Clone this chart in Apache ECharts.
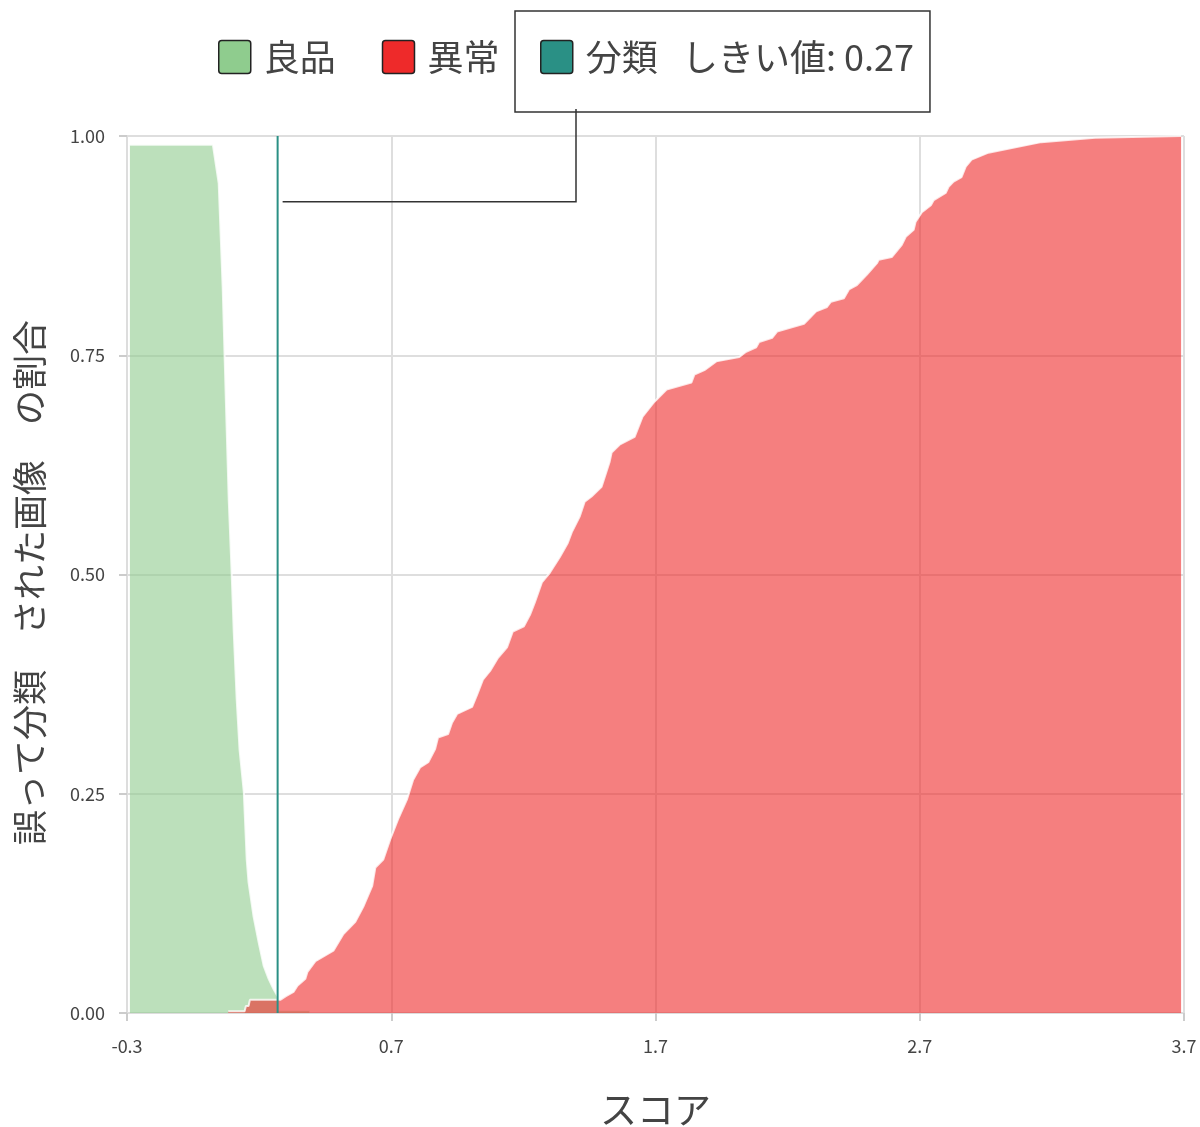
<!DOCTYPE html>
<html>
<head>
<meta charset="utf-8">
<script src="https://cdn.jsdelivr.net/npm/echarts@6/dist/echarts.min.js"></script>
<style>
html,body{margin:0;padding:0;background:#fff;}
#chart{width:1200px;height:1127px;}
</style>
</head>
<body>
<div id="chart"></div>
<script>
// ---- data ----
const xTicks = [-0.3, 0.7, 1.7, 2.7, 3.7];
const yTicks = [0, 0.25, 0.5, 0.75, 1.0];
const seriesNames = ['良品', '異常', '分類   しきい値: 0.27'];
const threshold = 0.27;

const goodX = [-0.289, 0.025, 0.047, 0.062, 0.074, 0.085, 0.096, 0.104, 0.115, 0.126, 0.142, 0.153, 0.160, 0.179, 0.198, 0.217, 0.236, 0.255, 0.270, 0.275, 0.390];
const goodY = [0.99, 0.99, 0.946, 0.828, 0.699, 0.585, 0.502, 0.434, 0.358, 0.300, 0.252, 0.175, 0.149, 0.110, 0.081, 0.054, 0.039, 0.027, 0.019, 0.003, 0.003];

const badX = [0.083, 0.145, 0.150, 0.160, 0.165, 0.280, 0.300, 0.330, 0.345, 0.375, 0.383, 0.413, 0.481, 0.519, 0.564, 0.594, 0.628, 0.640, 0.670, 0.696, 0.726, 0.760, 0.783, 0.809, 0.840, 0.866, 0.877, 0.915, 0.930, 0.949, 1.006, 1.025, 1.047, 1.074, 1.104, 1.138, 1.160, 1.202, 1.225, 1.243, 1.270, 1.300, 1.338, 1.368, 1.383, 1.413, 1.432, 1.458, 1.496, 1.526, 1.534, 1.564, 1.621, 1.651, 1.696, 1.742, 1.836, 1.847, 1.885, 1.930, 2.017, 2.043, 2.081, 2.092, 2.142, 2.160, 2.262, 2.308, 2.349, 2.364, 2.413, 2.432, 2.462, 2.500, 2.538, 2.545, 2.594, 2.632, 2.647, 2.677, 2.684, 2.708, 2.742, 2.753, 2.798, 2.809, 2.828, 2.858, 2.874, 2.896, 2.960, 3.160, 3.364, 3.689];
const badY = [0.002, 0.002, 0.008, 0.008, 0.015, 0.015, 0.019, 0.024, 0.031, 0.039, 0.047, 0.059, 0.071, 0.090, 0.104, 0.121, 0.145, 0.166, 0.175, 0.198, 0.221, 0.244, 0.266, 0.280, 0.286, 0.301, 0.314, 0.318, 0.331, 0.341, 0.349, 0.363, 0.380, 0.390, 0.405, 0.417, 0.435, 0.441, 0.454, 0.468, 0.491, 0.502, 0.520, 0.536, 0.548, 0.566, 0.583, 0.589, 0.600, 0.628, 0.639, 0.648, 0.657, 0.680, 0.697, 0.711, 0.719, 0.728, 0.733, 0.743, 0.748, 0.754, 0.759, 0.765, 0.770, 0.777, 0.786, 0.800, 0.805, 0.811, 0.815, 0.825, 0.830, 0.842, 0.855, 0.859, 0.862, 0.876, 0.885, 0.893, 0.902, 0.913, 0.921, 0.927, 0.935, 0.942, 0.948, 0.953, 0.965, 0.973, 0.981, 0.993, 0.998, 1.000];

const calloutY = 0.925;

// ---- chart ----
const FONT = '"Noto Sans CJK JP", "Noto Sans", sans-serif';
const TXT = '#444444';
const GREEN = '#8fcc8e', RED = '#ee2a2a', TEAL = '#2a9085';
const ICON = 'path://M3,0 H29 A3,3 0 0 1 32,3 V30 A3,3 0 0 1 29,33 H3 A3,3 0 0 1 0,30 V3 A3,3 0 0 1 3,0 Z';
const zip = (xs, ys) => xs.map((x, i) => [x, ys[i]]);

const chart = echarts.init(document.getElementById('chart'), null, {renderer: 'canvas'});
const legendIcon = c => ({color: c, borderColor: '#222', borderWidth: 1.5});

const option = {
  backgroundColor: '#fff',
  animation: false,
  textStyle: {fontFamily: FONT},
  grid: {left: 127, right: 16, top: 136, bottom: 114, containLabel: false, outerBoundsMode: 'none'},
  legend: [
    {
      left: 218, top: 39, padding: 0, itemGap: 46, itemWidth: 32, itemHeight: 33,
      icon: ICON, selectedMode: false,
      textStyle: {fontSize: 36, color: TXT, fontFamily: FONT, padding: [6, 0, 0, 8]},
      data: [
        {name: seriesNames[0], itemStyle: legendIcon(GREEN)},
        {name: seriesNames[1], itemStyle: legendIcon(RED)}
      ]
    },
    {
      left: 515, top: 11, padding: [28, 16, 37, 25], itemWidth: 32, itemHeight: 33,
      icon: ICON, selectedMode: false,
      borderColor: '#333', borderWidth: 1.5,
      textStyle: {fontSize: 36, color: TXT, fontFamily: FONT, padding: [6, 0, 0, 8]},
      data: [{name: seriesNames[2], itemStyle: legendIcon(TEAL)}]
    }
  ],
  xAxis: {
    type: 'value', min: xTicks[0], max: xTicks[xTicks.length - 1],
    name: 'スコア', nameLocation: 'middle', nameGap: 78,
    nameTextStyle: {fontSize: 37, color: TXT, fontFamily: FONT},
    axisLine: {show: true, onZero: false, lineStyle: {color: '#dddddd', width: 2}},
    axisTick: {show: true, length: 8, customValues: xTicks, lineStyle: {color: '#cccccc', width: 2}},
    axisLabel: {fontSize: 18, color: TXT, margin: 24, fontFamily: FONT, customValues: xTicks,
      formatter: v => v.toFixed(1)},
    splitLine: {show: true, lineStyle: {color: '#dedede', width: 2}}
  },
  yAxis: {
    type: 'value', min: 0, max: 1, interval: 0.25,
    name: '誤って分類　された画像　の割合', nameLocation: 'middle', nameGap: 80,
    nameTextStyle: {fontSize: 35, color: TXT, fontFamily: FONT, padding: [0, 16, 0, 0]},
    axisLine: {show: true, onZero: false, lineStyle: {color: '#dddddd', width: 2}},
    axisTick: {show: true, length: 8, lineStyle: {color: '#cccccc', width: 2}},
    axisLabel: {fontSize: 18, color: TXT, margin: 22, fontFamily: FONT, padding: [6, 0, 0, 0],
      formatter: v => v.toFixed(2)},
    splitLine: {show: true, lineStyle: {color: '#dedede', width: 2}}
  },
  series: [
    {
      name: seriesNames[0], type: 'line', data: zip(goodX, goodY),
      showSymbol: false, symbol: 'none', z: 2,
      itemStyle: {color: GREEN},
      lineStyle: {color: 'rgba(255,255,255,0.8)', width: 2},
      areaStyle: {color: GREEN, opacity: 0.6}
    },
    {
      name: seriesNames[1], type: 'line', data: zip(badX, badY),
      showSymbol: false, symbol: 'none', z: 3,
      itemStyle: {color: RED},
      lineStyle: {color: 'rgba(255,255,255,0.8)', width: 2},
      areaStyle: {color: RED, opacity: 0.6}
    },
    {
      name: seriesNames[2], type: 'line', data: [[threshold, 0], [threshold, 1]],
      showSymbol: false, symbol: 'none', z: 4,
      itemStyle: {color: TEAL},
      lineStyle: {color: TEAL, width: 2}
    }
  ]
};
chart.setOption(option);

// callout connector from the legend box to the threshold line
const p = chart.convertToPixel({gridIndex: 0}, [threshold, calloutY]);
const boxBottom = 11 + 98, connX = 576;
chart.setOption({
  graphic: [{
    type: 'polyline', z: 100,
    shape: {points: [[connX, boxBottom], [connX, p[1]], [p[0] + 5, p[1]]]},
    style: {stroke: '#333', lineWidth: 1.5, fill: null}
  }]
});
</script>
</body>
</html>
